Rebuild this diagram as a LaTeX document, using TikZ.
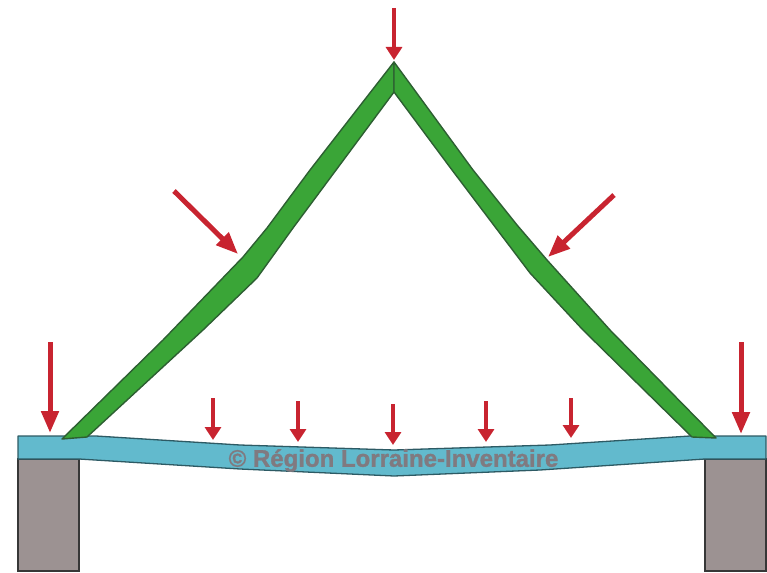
\documentclass[tikz,border=0pt]{standalone}
\usepackage{fontspec}
\setmainfont{Liberation Sans}
\newfontfamily\creditfont[FakeBold=1.2]{Liberation Sans Bold}
\usetikzlibrary{arrows.meta}
\definecolor{rafter}{RGB}{58,165,55}
\definecolor{rafteredge}{RGB}{45,95,50}
\definecolor{beam}{RGB}{98,186,205}
\definecolor{beamedge}{RGB}{45,90,100}
\definecolor{pier}{RGB}{156,146,146}
\definecolor{pieredge}{RGB}{55,55,55}
\definecolor{load}{RGB}{200,36,48}
\definecolor{mark}{RGB}{128,122,128}
\tikzset{
  rafterpart/.style={fill=rafter,draw=rafteredge,line width=1.4pt,line join=round},
  beampart/.style={fill=beam,draw=beamedge,line width=1.3pt,line join=round},
  pierpart/.style={fill=pier,draw=pieredge,line width=1.2pt},
  bigload/.style={draw=load,line width=5pt,-{Triangle[length=22pt,width=17pt]}},
  smallload/.style={draw=load,line width=4.5pt,-{Triangle[length=13pt,width=16pt]}},
  markstyle/.style={text=mark,font=\creditfont\fontsize{24}{25}\selectfont,inner sep=0pt}
}
\begin{document}
\begin{tikzpicture}[x=1pt,y=-1pt]
\useasboundingbox (0,0) rectangle (767,572);
% piers
\draw[pierpart] (18,459) rectangle (79,571);
\draw[pierpart] (705,459) rectangle (766,571);
% beam
\draw[beampart] (18,436) -- (96,436) -- (240,445) -- (394,450) -- (550,445) -- (690,436) -- (766,436)
  -- (766,459) -- (705,459) -- (540,470) -- (394,476) -- (240,469) -- (79,459) -- (18,459) -- cycle;
% rafters
\draw[rafterpart] (394,62) -- (310,170) -- (267,228) -- (243,257) -- (163,340) -- (62,439) -- (87,437) -- (203,330) -- (257,278) -- (293,228) -- (394,92) -- cycle;
\draw[rafterpart] (394,62) -- (473,170) -- (517,225) -- (547,260) -- (610,330) -- (716,438) -- (692,437) -- (583,330) -- (530,273) -- (452,170) -- (394,92) -- cycle;
% load coordinates
\coordinate (a1) at (50,342);  \coordinate (b1) at (50,433);
\coordinate (a2) at (741,342); \coordinate (b2) at (741,434);
\coordinate (a3) at (394,8);   \coordinate (b3) at (394,60);
\coordinate (a4) at (174,191); \coordinate (b4) at (238,254);
\coordinate (a5) at (614,195); \coordinate (b5) at (548,257);
\coordinate (a6) at (213,398); \coordinate (b6) at (213,440);
\coordinate (a7) at (298,401); \coordinate (b7) at (298,442);
\coordinate (a8) at (393,404); \coordinate (b8) at (393,445);
\coordinate (a9) at (486,401); \coordinate (b9) at (486,442);
\coordinate (a10) at (571,398); \coordinate (b10) at (571,438);
\draw[bigload] (a1) -- (b1);
\draw[bigload] (a2) -- (b2);
\draw[smallload] (a3) -- (b3);
\draw[bigload] (a4) -- (b4);
\draw[bigload] (a5) -- (b5);
\foreach \i in {6,...,10} \draw[smallload] (a\i) -- (b\i);
\node[markstyle] (credit) at (393.5,460.5) {© Région Lorraine-Inventaire};
\end{tikzpicture}
\end{document}
